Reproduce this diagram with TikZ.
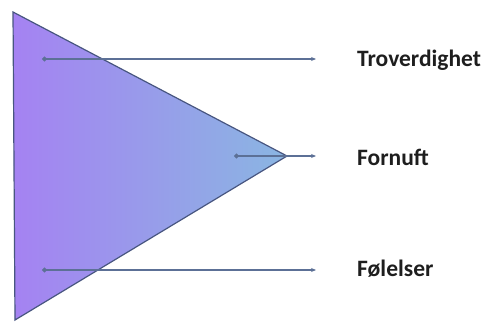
\documentclass[tikz,border=0pt]{standalone}
\usepackage{fontspec}
\setmainfont{Carlito}
\usetikzlibrary{arrows.meta}
\definecolor{triL}{RGB}{165,130,242}
\definecolor{triM}{RGB}{140,165,232}
\definecolor{triR}{RGB}{138,182,226}
\definecolor{triEdge}{RGB}{72,86,128}
\definecolor{conn}{RGB}{92,112,150}
\definecolor{txt}{RGB}{30,30,30}
\tikzset{
  x=1pt,y=-1pt,
  conline/.style={draw=conn,line width=1.1pt,{Circle[length=5pt]}-{Stealth[length=5pt,width=4pt]}},
  lbl/.style={anchor=west,inner sep=0pt,font=\fontsize{23.5}{28}\selectfont\bfseries,text=txt}
}
\begin{document}
\begin{tikzpicture}
\useasboundingbox (0,0) rectangle (484,321);
\coordinate (tl) at (13,12);
\coordinate (bl) at (15,320);
\coordinate (ap) at (287,156);
\shade[left color=triL,middle color=triM,right color=triR] (tl) -- (ap) -- (bl) -- cycle;
\draw[triEdge,line width=1.2pt,line join=miter] (tl) -- (ap) -- (bl) -- cycle;
\coordinate (s1) at (42,59);
\coordinate (e1) at (316,59);
\coordinate (s2) at (234,156);
\coordinate (e2) at (316,156);
\coordinate (s3) at (42,270);
\coordinate (e3) at (316,270);
\path[conline] (s1) -- (e1);
\path[conline] (s2) -- (e2);
\path[conline] (s3) -- (e3);
\node[lbl] (t1) at (357,60) {Troverdighet};
\node[lbl] (t2) at (357,157) {Fornuft};
\node[lbl] (t3) at (357,269) {Følelser};
\end{tikzpicture}
\end{document}
